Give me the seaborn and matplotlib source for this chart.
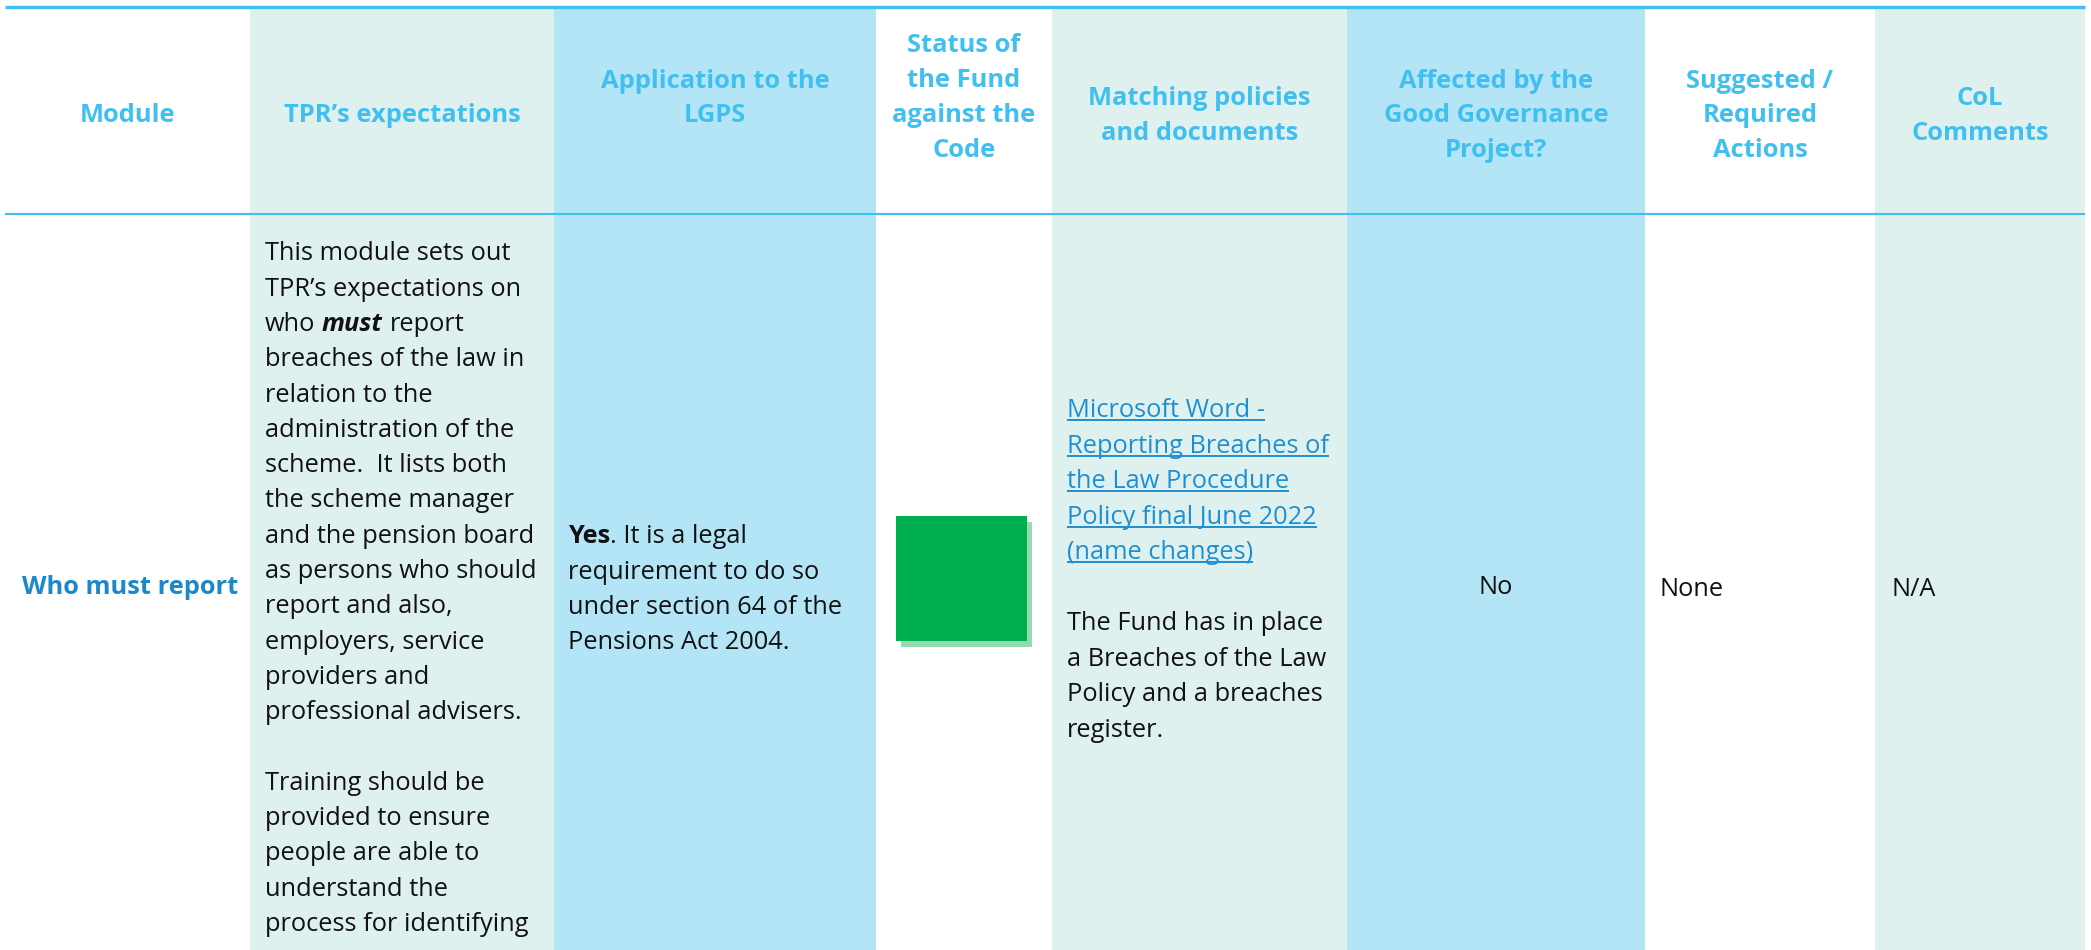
import re
import numpy as np
import pandas as pd
import seaborn as sns
import matplotlib
matplotlib.use("Agg")
import matplotlib.pyplot as plt
from matplotlib.patches import Rectangle

# ------------------------------------------------------------------ data
headers = [
    "Module",
    "TPR’s expectations",
    "Application to the\nLGPS",
    "Status of\nthe Fund\nagainst the\nCode",
    "Matching policies\nand documents",
    "Affected by the\nGood Governance\nProject?",
    "Suggested /\nRequired\nActions",
    "CoL\nComments",
]
module_name = "Who must report"
tpr_lines = [
    "This module sets out",
    "TPR’s expectations on",
    "who ***must*** report",
    "breaches of the law in",
    "relation to the",
    "administration of the",
    "scheme.  It lists both",
    "the scheme manager",
    "and the pension board",
    "as persons who should",
    "report and also,",
    "employers, service",
    "providers and",
    "professional advisers.",
    "",
    "Training should be",
    "provided to ensure",
    "people are able to",
    "understand the",
    "process for identifying",
]
application_lines = [
    "**Yes**. It is a legal",
    "requirement to do so",
    "under section 64 of the",
    "Pensions Act 2004.",
]
status_values = ["Green"]
matching_link_lines = [
    "Microsoft Word -",
    "Reporting Breaches of",
    "the Law Procedure",
    "Policy final June 2022",
    "(name changes)",
]
matching_text_lines = [
    "The Fund has in place",
    "a Breaches of the Law",
    "Policy and a breaches",
    "register.",
]
affected_value = "No"
actions_value = "None"
col_comments_value = "N/A"

# ------------------------------------------------------------------ layout / style
W, H, DPI = 2091, 950, 100
col_edges = [5, 250, 554, 876, 1052, 1347, 1645, 1875, 2085]
col_fills = ["#FFFFFF", "#DFF1EF", "#B3E5F6", "#FFFFFF",
             "#DFF1EF", "#B3E5F6", "#FFFFFF", "#DFF1EF"]
header_center_y = [116, 116, 98.5, 98, 116, 116, 116, 116]
header_pitch = 34.8
body_pitch = 35.3
top_line_y, header_line_y = 7, 214
line_color = "#41BFEE"
header_color = "#41C0F0"
module_color = "#1C87C9"
link_color = "#1E8FD0"
text_color = "#111111"
status_colors = {"Green": "#00AF50"}
status_shadow = {"Green": "#97DAB2"}
FONT = ["Open Sans", "DejaVu Sans"]

sns.set_theme(style="white")
plt.rcParams["font.family"] = FONT

fig = plt.figure(figsize=(W / DPI, H / DPI), dpi=DPI)
ax = fig.add_axes([0, 0, 1, 1])
ax.set_xlim(0, W)
ax.set_ylim(H, 0)
ax.axis("off")
renderer = fig.canvas.get_renderer()


def measure(txt, size, weight="normal", style="normal"):
    t = ax.text(0, 0, txt, fontsize=size, fontweight=weight, fontstyle=style)
    w = t.get_window_extent(renderer).width
    t.remove()
    return w


def fit(txt, target, weight="normal", style="normal"):
    return 10 * target / measure(txt, 10, weight, style)


body_size = fit("This module sets out", 246)
header_size = fit("TPR’s expectations", 237, weight="bold")
body_px = body_size * DPI / 72.0
space_w = measure("n n", body_size) - measure("nn", body_size)


def parse(line):
    runs = []
    for part in re.split(r"(\*\*\*[^*]+\*\*\*|\*\*[^*]+\*\*)", line):
        if not part:
            continue
        if part.startswith("***"):
            runs.append((part[3:-3], "bold", "italic"))
        elif part.startswith("**"):
            runs.append((part[2:-2], "bold", "normal"))
        else:
            runs.append((part, "normal", "normal"))
    return runs


def draw_line(x, yc, line, color=text_color, underline=False):
    base = yc + 0.33 * body_px
    x0 = x
    for txt, wt, st in parse(line):
        lead = len(txt) - len(txt.lstrip(" "))
        trail = len(txt) - len(txt.rstrip(" "))
        core = txt.strip(" ")
        x += lead * space_w
        if core:
            ax.text(x, base, core, fontsize=body_size, fontweight=wt,
                    fontstyle=st, color=color, ha="left", va="baseline")
            x += measure(core, body_size, wt, st)
        x += trail * space_w
    if underline and line:
        ax.plot([x0, x], [base + 0.12 * body_px] * 2, color=color, lw=1.4,
                solid_capstyle="butt")


# column backgrounds
for i in range(len(headers)):
    ax.add_patch(Rectangle((col_edges[i], top_line_y), col_edges[i + 1] - col_edges[i],
                           H - top_line_y, facecolor=col_fills[i], edgecolor="none", zorder=0))

# rules
ax.plot([col_edges[0], col_edges[-1]], [top_line_y, top_line_y], color=line_color, lw=2.4,
        solid_capstyle="butt")
ax.plot([col_edges[0], col_edges[-1]], [header_line_y, header_line_y], color=line_color,
        lw=1.5, solid_capstyle="butt")

# headers
for i, h in enumerate(headers):
    parts = h.split("\n")
    xc = (col_edges[i] + col_edges[i + 1]) / 2
    for j, p in enumerate(parts):
        y = header_center_y[i] + (j - (len(parts) - 1) / 2) * header_pitch
        ax.text(xc, y, p, fontsize=header_size, fontweight="bold", color=header_color,
                ha="center", va="center")

row_center = 588

# module column
ax.text((col_edges[0] + col_edges[1]) / 2 + 3, row_center, module_name, fontsize=body_size,
        fontweight="bold", color=module_color, ha="center", va="center")

# TPR expectations
for k, line in enumerate(tpr_lines):
    draw_line(col_edges[1] + 15, 252 + k * body_pitch, line)

# application
first = row_center - (len(application_lines) - 1) / 2 * body_pitch
for k, line in enumerate(application_lines):
    draw_line(col_edges[2] + 14, first + k * body_pitch, line)

# status square
for s in status_values:
    sx, sy, sw, sh = 896, 516, 131, 125
    ax.add_patch(Rectangle((sx + 5, sy + 6), sw, sh, facecolor=status_shadow[s],
                           edgecolor="none", zorder=1))
    ax.add_patch(Rectangle((sx, sy), sw, sh, facecolor=status_colors[s],
                           edgecolor="none", zorder=2))

# matching policies
mpitch = 35.5
for k, line in enumerate(matching_link_lines):
    draw_line(col_edges[4] + 15, 409 + k * mpitch, line, color=link_color, underline=True)
off = len(matching_link_lines) + 1
for k, line in enumerate(matching_text_lines):
    draw_line(col_edges[4] + 15, 409 + (off + k) * mpitch, line)

# affected / actions / comments
ax.text((col_edges[5] + col_edges[6]) / 2, row_center, affected_value, fontsize=body_size,
        color=text_color, ha="center", va="center")
draw_line(col_edges[6] + 15, row_center, actions_value)
draw_line(col_edges[7] + 16, row_center, col_comments_value)

fig.savefig("out.png", dpi=DPI, facecolor="white")
